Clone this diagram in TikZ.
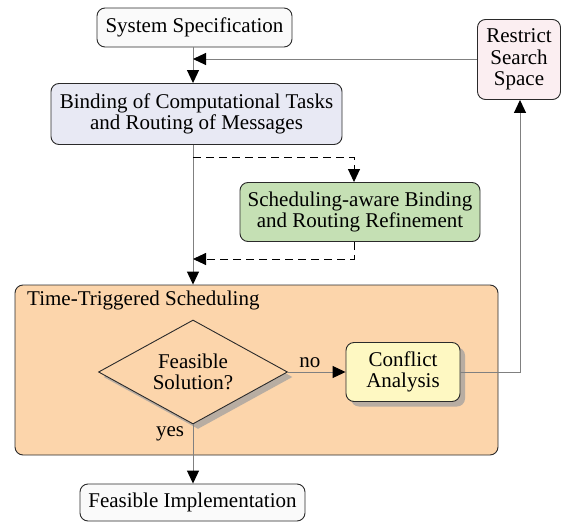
\documentclass[tikz,border=0pt]{standalone}
\usepackage{fontspec}
\setmainfont{Liberation Serif}
\usetikzlibrary{arrows.meta,shapes.geometric,shadows}

\definecolor{specfill}{HTML}{FAFAFA}
\definecolor{restrictfill}{HTML}{FBEEF1}
\definecolor{bindfill}{HTML}{E8E9F4}
\definecolor{refinefill}{HTML}{C5E0B4}
\definecolor{ttsfill}{HTML}{FCD5AB}
\definecolor{conflictfill}{HTML}{FEF8C2}
\definecolor{shadowcol}{HTML}{B8ADA2}
\definecolor{linkcol}{HTML}{808080}
\definecolor{edgecol}{HTML}{2A2A2A}

\tikzset{
  txt/.style={font=\fontsize{21}{21.5}\selectfont},
  box/.style={txt, draw=edgecol, line width=0.9pt, rounded corners=8pt,
    align=center, inner sep=0pt},
  link/.style={draw=linkcol, line width=1pt},
  arr/.style={link, -{Triangle[length=13pt,width=12pt,color=black]}},
  dlink/.style={draw=black, line width=0.9pt, dash pattern=on 8pt off 5pt},
  darr/.style={dlink, -{Triangle[length=13pt,width=12pt,color=black]}},
  shade/.style={drop shadow={shadow xshift=5pt, shadow yshift=-5pt,
    fill=shadowcol, opacity=1}},
}

\begin{document}
\begin{tikzpicture}[x=1pt, y=-1pt]
  \useasboundingbox (0,0) rectangle (562,522);

  % main flow axis
  \coordinate (axis) at (193,0);

  % outer scheduling frame
  \node[box, fill=ttsfill, minimum width=483pt, minimum height=170pt]
    (tts) at (256.5,370) {};
  \node[txt, anchor=west, inner sep=0pt] (ttslabel) at (27,300)
    {Time-Triggered Scheduling};

  % process boxes
  \node[box, fill=specfill, minimum width=195pt, minimum height=39pt]
    (spec) at (194.5,27.5) {System Specification};
  \node[box, fill=restrictfill, minimum width=83pt, minimum height=80pt]
    (restrict) at (519,59.5) {Restrict\\Search\\Space};
  \node[box, fill=bindfill, minimum width=291pt, minimum height=61pt]
    (bind) at (196.5,114) {Binding of Computational Tasks\\and Routing of Messages};
  \node[box, fill=refinefill, minimum width=240pt, minimum height=59pt]
    (refine) at (360,212) {Scheduling-aware Binding\\and Routing Refinement};
  \node[txt, shape=diamond, aspect=1.8, draw=edgecol, line width=0.9pt,
    fill=ttsfill, minimum width=189pt, minimum height=104pt, inner sep=0pt,
    align=center, shade] (dec) at (193,372) {Feasible\\Solution?};
  \node[box, fill=conflictfill, minimum width=114pt, minimum height=59pt,
    shade] (conflict) at (403,372) {Conflict\\Analysis};
  \node[box, fill=specfill, minimum width=225pt, minimum height=37pt]
    (impl) at (192.5,502.5) {Feasible Implementation};

  % dashed refinement loop
  \coordinate (dA) at (193,157);
  \coordinate (dB) at (354,157);
  \coordinate (dC) at (354,259);
  \coordinate (dD) at (193,259);

  % connectors
  \draw[arr] (spec.south -| axis) -- (bind.north -| axis);
  \draw[arr] (restrict.west |- 0,59) -- (axis |- 0,59);
  \draw[arr] (bind.south -| axis) -- (tts.north -| axis);
  \draw[darr] (dA) -- (dB) -- (refine.north -| dB);
  \draw[darr] (refine.south -| dC) -- (dC) -- (dD);
  \draw[arr] (dec.east) -- node[txt, above=4pt, xshift=-7pt, inner sep=0pt]
    (nolabel) {no} (conflict.west);
  \draw[arr] (conflict.east) -| (restrict.south -| 520,0);
  \draw[arr] (dec.south) -- (impl.north -| dec.south);
  \node[txt, inner sep=0pt] (yeslabel) at (170,434) {yes};
\end{tikzpicture}
\end{document}
